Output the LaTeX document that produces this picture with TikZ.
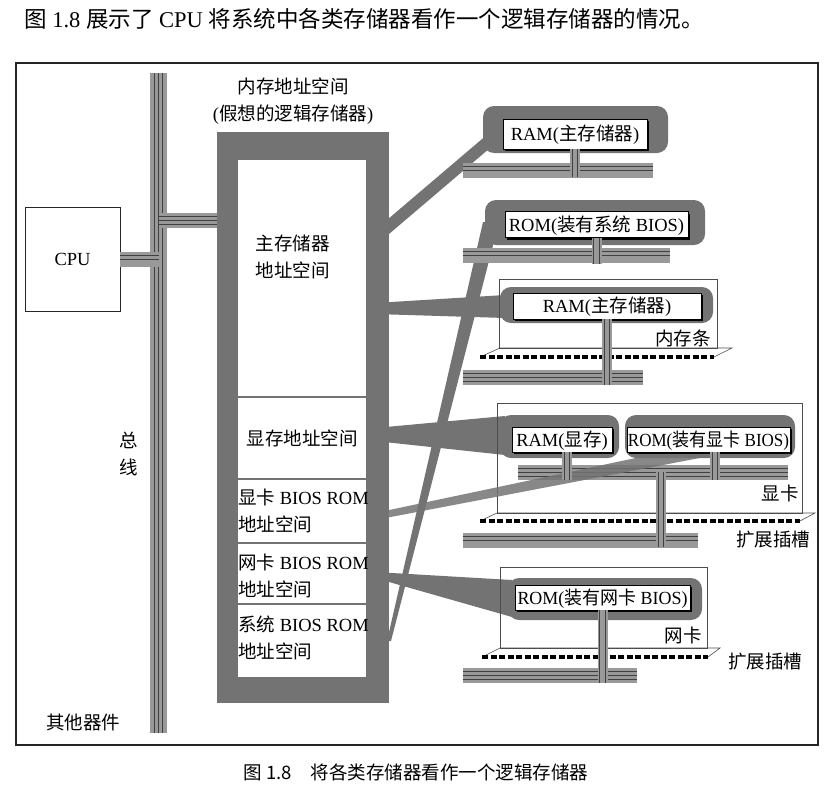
\documentclass[tikz,border=0pt]{standalone}
\usepackage{fontspec}
\setmainfont{Liberation Serif}
\newfontfamily\cjk{Noto Sans CJK SC}
\usepackage{graphicx}
\usepackage{tikz}
\usetikzlibrary{shadows}

\begin{document}
\begin{tikzpicture}[x=1pt,y=-1pt,
  font=\fontsize{18.5}{27}\selectfont,
  wire/.style={fill=black!55},
  bus/.style={draw=black!75,line width=.8pt,double=black!40,double distance=7pt,
    preaction={draw=black!40,line width=15pt},postaction={draw=black!75,line width=.8pt}},
  stub/.style={draw=black!75,line width=.8pt,double=black!40,double distance=4.5pt,
    preaction={draw=black!40,line width=10pt}},
  sect/.style={draw=black!55,line width=1.6pt,fill=white,minimum width=130,inner sep=0},
  halo/.style={fill=black!55,rounded corners=11,inner sep=0},
  chip/.style={draw=black,line width=.7pt,fill=white,inner sep=0,text height=16pt,text depth=3pt,
    drop shadow={shadow xshift=2pt,shadow yshift=-2pt,fill=black,opacity=1}},
  card/.style={draw=black!70,line width=.7pt,inner sep=0},
  slotedge/.style={draw=black!70,line width=.6pt},
  slotpins/.style={draw=black,line width=3.4pt,dash pattern=on 6pt off 2.5pt}]
\useasboundingbox (0,0) rectangle (834,795);

% text line above the figure
\node[anchor=west,inner sep=0,font=\fontsize{22.5}{26}\selectfont] (intro) at (24,19)
  {{\cjk 图} 1.8 {\cjk 展示了} CPU {\cjk 将系统中各类存储器看作一个逻辑存储器的情况。}};
\draw[black!85,line width=1.6pt] (16,63) rectangle (818,745);

% bus and CPU
\coordinate (bustop) at (158.5,73);
\coordinate (busbot) at (158.5,733);
\draw[bus,preaction={draw=black!40,line width=17pt}] (bustop) -- (busbot);
\node[draw=black!85,line width=.8pt,fill=white,minimum width=95,minimum height=104,
  drop shadow={shadow xshift=1.2pt,shadow yshift=-1.2pt,fill=black!70,opacity=1}] (cpu) at (72.5,259) {CPU};
\draw[bus] (cpu.east) -- (cpu.east -| bustop);
\node[align=center] (busname) at (129,454) {{\cjk 总}\\{\cjk 线}};
\node (others) at (83,722) {{\cjk 其他器件}};

% memory address space
\node[wire,minimum width=172,minimum height=571,inner sep=0] (memspace) at (303,417.5) {};
\node[align=center] (memtitle) at (293,101) {{\cjk 内存地址空间}\\({\cjk 假想的逻辑存储器})};
\coordinate (memport) at (217,220.5);
\draw[bus] (memport -| bustop) -- (memport);

% wide links to the chips
\draw[black!55,line width=12pt] (372,240.6) -- (496,135);
\fill[wire] (375,303) -- (505,295) -- (505,318) -- (375,314) -- cycle;
\fill[wire] (375,428) -- (505,416) -- (505,455) -- (375,441) -- cycle;
\fill[wire] (375,572) -- (512,580) -- (512,617) -- (375,578) -- cycle;
\fill[wire] (387,641) -- (483,222) -- (499,222) -- (391,641) -- cycle;

\node[sect,minimum height=238] (secmain) at (302,278) {};
\node[sect,minimum height=82] (secvram) at (302,438) {{\cjk 显存地址空间}};
\node[sect,minimum height=64] (secvbios) at (302,511) {};
\node[sect,minimum height=61] (secnbios) at (302,573.5) {};
\node[sect,minimum height=74] (secsbios) at (302,641) {};
\node[align=center] (tmain) at (292.5,257) {{\cjk 主存储器}\\{\cjk 地址空间}};
\node[anchor=west,align=left,inner sep=0] (tvbios) at (238,511) {{\cjk 显卡} BIOS ROM\\{\cjk 地址空间}};
\node[anchor=west,align=left,inner sep=0] (tnbios) at (238,576) {{\cjk 网卡} BIOS ROM\\{\cjk 地址空间}};
\node[anchor=west,align=left,inner sep=0] (tsbios) at (238,637.5) {{\cjk 系统} BIOS ROM\\{\cjk 地址空间}};

% cards and slots
\node[card,minimum width=218,minimum height=69] (dimm) at (608,313.5) {};
\draw[slotedge] (480,357) -- (500,348) -- (732,348) -- (714,357);
\draw[slotpins] (480,357) -- (714,357);
\node[card,minimum width=305,minimum height=110] (vga) at (649.5,458) {};
\draw[slotedge] (480,521) -- (497,513) -- (815,513) -- (800,521);
\draw[slotpins] (480,521) -- (800,521);
\node[card,minimum width=207,minimum height=81] (nic) at (603.5,607.5) {};
\draw[slotedge] (482,657) -- (500,648) -- (720,648) -- (708,657);
\draw[slotpins] (482,657) -- (708,657);

\draw[bus] (463,170) -- (653,170);
\draw[bus] (463,255) -- (670,255);
\draw[bus] (463,377.5) -- (643,377.5);
\draw[bus] (518,472.5) -- (788,472.5);
\draw[bus] (463,540) -- (698,540);
\draw[bus] (463,675.5) -- (637,675.5);
\fill[wire,opacity=.85] (375,513) -- (650,455) -- (705,457) -- (375,520) -- cycle;

\node[halo,minimum width=185,minimum height=47] (haloA) at (575.5,129.5) {};
\node[halo,minimum width=220,minimum height=45] (haloB) at (595,222.5) {};
\node[halo,minimum width=213,minimum height=36] (haloC) at (606.5,305) {};
\node[halo,minimum width=119,minimum height=43] (haloD) at (559.5,436.5) {};
\node[halo,minimum width=170,minimum height=43] (haloE) at (710,436.5) {};
\node[halo,minimum width=194,minimum height=42] (haloF) at (605,599) {};

\node[chip,minimum width=144,minimum height=30] (ramA) at (575,134) {RAM({\cjk 主存储器})};
\node[chip,minimum width=183,minimum height=26] (romA) at (596.5,224.5) {ROM({\cjk 装有系统} BIOS)};
\node[chip,minimum width=188,minimum height=26] (ramB) at (607,306) {RAM({\cjk 主存储器})};
\node[chip,minimum width=100,minimum height=25] (vram) at (562,439.5) {RAM({\cjk 显存})};
\node[chip,minimum width=163,minimum height=25] (vrom) at (708.5,439.5) {\scalebox{.92}[1]{ROM({\cjk 装有显卡} BIOS)}};
\node[chip,minimum width=175,minimum height=25] (nrom) at (602.5,597.5) {\scalebox{.97}[1]{ROM({\cjk 装有网卡} BIOS)}};

\draw[stub] (ramA.south) -- ++(0,28);
\draw[stub] (romA.south) -- ++(0,26);
\draw[stub] (ramB.south) -- ++(0,66);
\draw[stub] ([xshift=5pt]vram.south) -- ++(0,28);
\draw[stub] ([xshift=6.5pt]vrom.south) -- ++(0,28);
\draw[stub] (661,472) -- (661,547);
\draw[stub] (nrom.south) -- ++(0,73);

\node (dimmname) at (683,338) {{\cjk 内存条}};
\node (vganame) at (780,493) {{\cjk 显卡}};
\node (nicname) at (683,635) {{\cjk 网卡}};
\node (slotnameA) at (773,540) {{\cjk 扩展插槽}};
\node (slotnameB) at (765,662) {{\cjk 扩展插槽}};

\node[font=\cjk\fontsize{18.5}{22}\selectfont] (caption) at (416,772) {图 1.8\quad 将各类存储器看作一个逻辑存储器};
\end{tikzpicture}
\end{document}
